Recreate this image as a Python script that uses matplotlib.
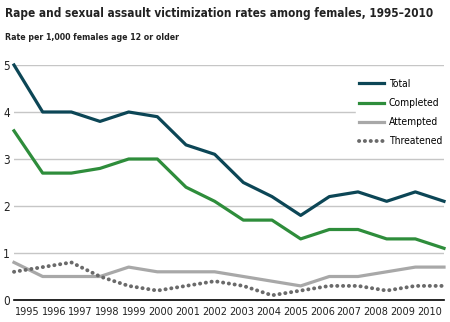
import matplotlib
matplotlib.use("Agg")
import matplotlib.pyplot as plt
from matplotlib import font_manager
import numpy as np

# prefer a narrow/condensed face when one is installed
narrow = None
for f in font_manager.fontManager.ttflist:
    if ('Narrow' in f.name or 'Condensed' in f.name
            or str(f.stretch) in ('condensed', 'semi-condensed', '75', '87')):
        narrow = f
        break
if narrow is not None:
    plt.rcParams['font.family'] = [narrow.name, 'DejaVu Sans']
    plt.rcParams['font.stretch'] = narrow.stretch
else:
    plt.rcParams['font.family'] = ['DejaVu Sans']

years = ['1995', '1996', '1997', '1998', '1999', '2000', '2001', '2002',
         '2003', '2004', '2005', '2006', '2007', '2008', '2009', '2010']
total = [5.0, 4.0, 4.0, 3.8, 4.0, 3.9, 3.3, 3.1, 2.5, 2.2, 1.8, 2.2, 2.3, 2.1, 2.3, 2.1]
completed = [3.6, 2.7, 2.7, 2.8, 3.0, 3.0, 2.4, 2.1, 1.7, 1.7, 1.3, 1.5, 1.5, 1.3, 1.3, 1.1]
attempted = [0.8, 0.5, 0.5, 0.5, 0.7, 0.6, 0.6, 0.6, 0.5, 0.4, 0.3, 0.5, 0.5, 0.6, 0.7, 0.7]
threatened = [0.6, 0.7, 0.8, 0.5, 0.3, 0.2, 0.3, 0.4, 0.3, 0.1, 0.2, 0.3, 0.3, 0.2, 0.3, 0.3]

W, H = 450, 322
fig = plt.figure(figsize=(W / 100, H / 100), dpi=100)
ax = fig.add_axes([14 / W, (H - 300) / H, 430 / W, 235 / H])

x = np.arange(len(years))
lw = 2.3
ax.plot(x, total, color='#0c4656', lw=lw, clip_on=False, label='Total', zorder=4)
ax.plot(x, completed, color='#2e8d3b', lw=lw, clip_on=False, label='Completed', zorder=4)
ax.plot(x, attempted, color='#a8a8a8', lw=lw, clip_on=False, label='Attempted', zorder=3)
ax.plot(x, threatened, color='#6a6a6a', lw=2.8, clip_on=False, label='Threatened',
        linestyle=(0, (0.05, 1.45)), dash_capstyle='round', zorder=3)

ax.set_xlim(0, len(years) - 1)
ax.set_ylim(0, 5)
ax.set_yticks([0, 1, 2, 3, 4, 5])
for v in [1, 2, 3, 4, 5]:
    ax.axhline(v, color='#c6c6c6', lw=1.0, zorder=1)

# year labels are spaced a bit tighter than the data points
ax.set_xticks(0.45 + 0.937 * x)
ax.set_xticklabels(years)
ax.tick_params(axis='both', length=0, labelsize=7.8, colors='#222222')
ax.tick_params(axis='x', pad=5)
ax.tick_params(axis='y', pad=3)
ax.tick_params(axis='y', labelsize=8.5)
for side in ['top', 'right', 'left']:
    ax.spines[side].set_visible(False)
ax.spines['bottom'].set_color('black')
ax.spines['bottom'].set_linewidth(1.2)

leg = ax.legend(loc='upper left', bbox_to_anchor=(356 / W, (H - 76) / H),
                bbox_transform=fig.transFigure, frameon=True, fontsize=7.4,
                handlelength=2.4, handletextpad=0.5, labelspacing=0.88,
                borderpad=0.3, borderaxespad=0, fancybox=False)
leg.get_frame().set_facecolor('white')
leg.get_frame().set_edgecolor('white')
leg.get_frame().set_alpha(1)
leg.set_zorder(5)

fig.text(5 / W, 1 - 14 / H, 'Rape and sexual assault victimization rates among females, 1995\u20132010',
         fontsize=8.5, fontweight='bold', color='#222222', va='center', ha='left')
fig.text(5 / W, 1 - 37 / H, 'Rate per 1,000 females age 12 or older',
         fontsize=6.3, fontweight='bold', color='#222222', va='center', ha='left')

fig.savefig('out.png', dpi=100, facecolor='white')
